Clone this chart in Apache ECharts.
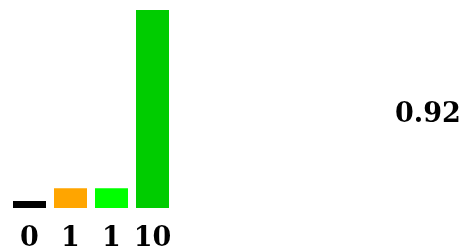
<!DOCTYPE html>
<html>
<head>
<meta charset="utf-8">
<script src="https://cdn.jsdelivr.net/npm/echarts@6/dist/echarts.min.js"></script>
<style>
  html, body { margin: 0; padding: 0; background: #fff; }
  #main { width: 467px; height: 248px; }
</style>
</head>
<body>
<div id="main"></div>
<script>
var categories = ['a', 'b', 'c', 'd'];
var barLabels = ['0', '1', '1', '10'];
var barValues = [0.35, 1, 1, 10];
var barColors = ['#000000', '#ffa500', '#00ff00', '#00cc00'];
var scoreText = '0.92';

var chart = echarts.init(document.getElementById('main'), null, { renderer: 'canvas' });

var option = {
  animation: false,
  grid: { left: 9, top: 10, width: 164, bottom: 40, outerBoundsMode: 'none', containLabel: false },
  xAxis: {
    type: 'category',
    data: categories,
    axisLine: { show: false },
    axisTick: { show: false },
    axisLabel: {
      interval: 0,
      hideOverlap: false,
      margin: 17,
      fontFamily: 'DejaVu Serif',
      fontWeight: 'bold',
      fontSize: 27,
      color: '#000',
      formatter: function (v, i) { return barLabels[i]; }
    }
  },
  yAxis: {
    type: 'value',
    min: 0,
    max: 10,
    show: false,
    splitLine: { show: false }
  },
  series: [{
    type: 'bar',
    barWidth: 33,
    data: barValues.map(function (v, i) {
      return { value: v, itemStyle: { color: barColors[i] } };
    })
  }],
  graphic: [{
    type: 'text',
    left: 395,
    top: 101,
    style: {
      text: scoreText,
      font: 'bold 27px "DejaVu Serif"',
      fill: '#000'
    }
  }]
};

chart.setOption(option);
</script>
</body>
</html>
